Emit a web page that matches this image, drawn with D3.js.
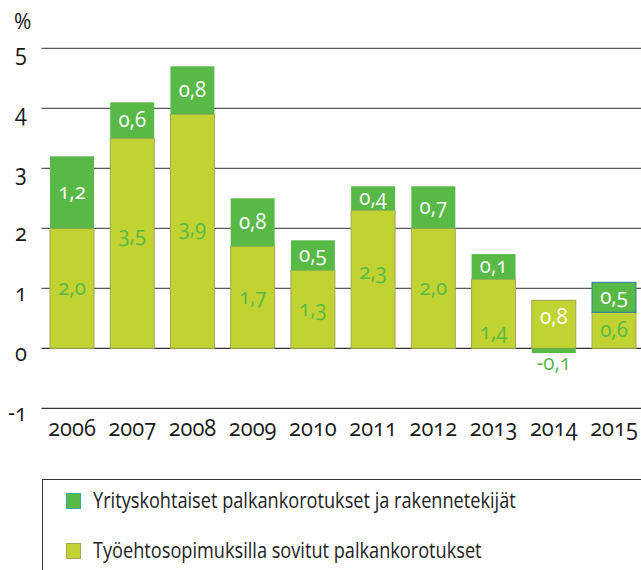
<!DOCTYPE html>
<html lang="fi">
<head>
    <meta charset="UTF-8">
    <title>Palkankorotukset</title>
    <script src="https://cdnjs.cloudflare.com/ajax/libs/d3/7.8.5/d3.min.js"></script>
    <style>
        body {
            margin: 0;
            background: #ffffff;
        }
        svg text {
            font-family: 'Open Sans', 'Noto Sans', sans-serif;
            font-variant-numeric: oldstyle-nums;
        }
        .tick-label {
            font-size: 23px;
            fill: #1a1a1a;
        }
        .bar-label {
            font-size: 22px;
        }
        .legend-text {
            font-size: 21px;
            fill: #222;
        }
    </style>
</head>
<body>
    <div id="chart"></div>

    <script>
        // Data
        const years = ["2006", "2007", "2008", "2009", "2010", "2011", "2012", "2013", "2014", "2015"];
        // bar heights as drawn (%)
        const agreed = [2.0, 3.5, 3.9, 1.7, 1.3, 2.3, 2.0, 1.15, 0.8, 0.6];
        const company = [1.2, 0.6, 0.8, 0.8, 0.5, 0.4, 0.7, 0.42, -0.08, 0.5];
        // printed value labels
        const agreedLabels = ["2,0", "3,5", "3,9", "1,7", "1,3", "2,3", "2,0", "1,4", "0,8", "0,6"];
        const companyLabels = ["1,2", "0,6", "0,8", "0,8", "0,5", "0,4", "0,7", "0,1", "-0,1", "0,5"];
        const yTicks = [-1, 0, 1, 2, 3, 4, 5];
        const seriesNames = [
            "Yrityskohtaiset palkankorotukset ja rakennetekijät",
            "Työehtosopimuksilla sovitut palkankorotukset"
        ];

        const colors = {
            company: "#58b947",
            agreed: "#c1d333",
            agreedStroke: "#a2a553",
            grid: "#5a5a5a"
        };

        // small vertical nudges for light-bar labels (px)
        const agreedNudge = { "2007": -8, "2008": -3, "2011": -7, "2013": 19, "2014": -7 };

        const W = 641, H = 570;

        // the original type is a narrow face, so squeeze text horizontally
        function placeText(sel, fx, fy, sx) {
            sel.attr("x", 0).attr("y", 0)
                .attr("transform", (d, i) => `translate(${fx(d, i)},${fy(d, i)}) scale(${sx},1)`);
        }

        const svg = d3.select("#chart")
            .append("svg")
            .attr("width", W)
            .attr("height", H);

        const x = d3.scaleBand()
            .domain(years)
            .range([41.9, 644.1])
            .paddingInner(0.27)
            .paddingOuter(0.135);

        const y = d3.scaleLinear()
            .domain([-1, 5])
            .range([408.3, 48.3]);

        const bw = x.bandwidth();

        // grid lines
        svg.selectAll(".grid")
            .data(yTicks)
            .enter()
            .append("line")
            .attr("x1", 41.5)
            .attr("x2", W)
            .attr("y1", d => y(d))
            .attr("y2", d => y(d))
            .attr("stroke", d => d <= 0 ? "#333" : colors.grid)
            .attr("stroke-width", 1.3);

        // y tick labels (sit just below their grid line)
        svg.selectAll(".ylab")
            .data(yTicks)
            .enter()
            .append("text")
            .attr("class", "tick-label")
            .attr("text-anchor", "end")
            .text(d => d)
            .call(placeText, () => 27, d => y(d) + 12.5, 0.95);

        svg.append("text")
            .attr("class", "tick-label")
            .style("font-size", "21px")
            .attr("x", 14)
            .attr("y", 29)
            .text("%");

        // x labels
        svg.selectAll(".xlab")
            .data(years)
            .enter()
            .append("text")
            .attr("class", "tick-label")
            .attr("text-anchor", "middle")
            .text(d => d)
            .call(placeText, d => x(d) + bw / 2, () => 436, 0.95);

        // light bars (collective agreements)
        svg.selectAll(".agreed")
            .data(years)
            .enter()
            .append("rect")
            .attr("x", d => x(d))
            .attr("y", (d, i) => y(agreed[i]))
            .attr("width", bw)
            .attr("height", (d, i) => y(0) - y(agreed[i]))
            .attr("fill", colors.agreed)
            .attr("stroke", colors.agreedStroke)
            .attr("stroke-width", 1);

        // green bars stacked on top (negative goes below zero)
        svg.selectAll(".company")
            .data(years)
            .enter()
            .append("rect")
            .attr("x", d => x(d))
            .attr("y", (d, i) => company[i] >= 0 ? y(agreed[i] + company[i]) : y(0))
            .attr("width", bw)
            .attr("height", (d, i) => company[i] >= 0
                ? y(agreed[i]) - y(agreed[i] + company[i])
                : y(company[i]) - y(0))
            .attr("fill", colors.company)
            .attr("stroke", d => d === "2015" ? "#2a7ab0" : "none")
            .attr("stroke-width", 1);

        // labels on light bars
        svg.selectAll(".agreedLabel")
            .data(years)
            .enter()
            .append("text")
            .attr("class", "bar-label")
            .attr("dy", "0.3em")
            .attr("text-anchor", "middle")
            .attr("fill", d => d === "2014" ? "#ffffff" : colors.company)
            .text((d, i) => agreedLabels[i])
            .call(placeText, d => x(d) + bw / 2,
                (d, i) => (y(0) + y(agreed[i])) / 2 + (agreedNudge[d] || 0), 0.93);

        // labels on green bars
        svg.selectAll(".companyLabel")
            .data(years)
            .enter()
            .append("text")
            .attr("class", "bar-label")
            .attr("dy", "0.3em")
            .attr("text-anchor", "middle")
            .attr("fill", (d, i) => company[i] >= 0 ? "#ffffff" : colors.company)
            .text((d, i) => companyLabels[i])
            .call(placeText, d => x(d) + bw / 2,
                (d, i) => company[i] >= 0
                    ? (y(agreed[i]) + y(agreed[i] + company[i])) / 2
                    : y(company[i]) + 10, 0.93);

        // legend
        svg.append("rect")
            .attr("x", 42.5)
            .attr("y", 479.5)
            .attr("width", 620)
            .attr("height", 120)
            .attr("fill", "none")
            .attr("stroke", "#333")
            .attr("stroke-width", 1);

        const legendItems = [
            { name: seriesNames[0], fill: colors.company, stroke: "#3aa8a0", cy: 501 },
            { name: seriesNames[1], fill: colors.agreed, stroke: colors.agreedStroke, cy: 551 }
        ];

        const lg = svg.selectAll(".legend")
            .data(legendItems)
            .enter()
            .append("g");

        lg.append("rect")
            .attr("x", 66.5)
            .attr("y", d => d.cy - 7.5)
            .attr("width", 14)
            .attr("height", 15)
            .attr("fill", d => d.fill)
            .attr("stroke", d => d.stroke);

        lg.append("text")
            .attr("class", "legend-text")
            .attr("dy", "0.35em")
            .text(d => d.name)
            .call(placeText, () => 93, d => d.cy, 0.865);
    </script>
</body>
</html>
